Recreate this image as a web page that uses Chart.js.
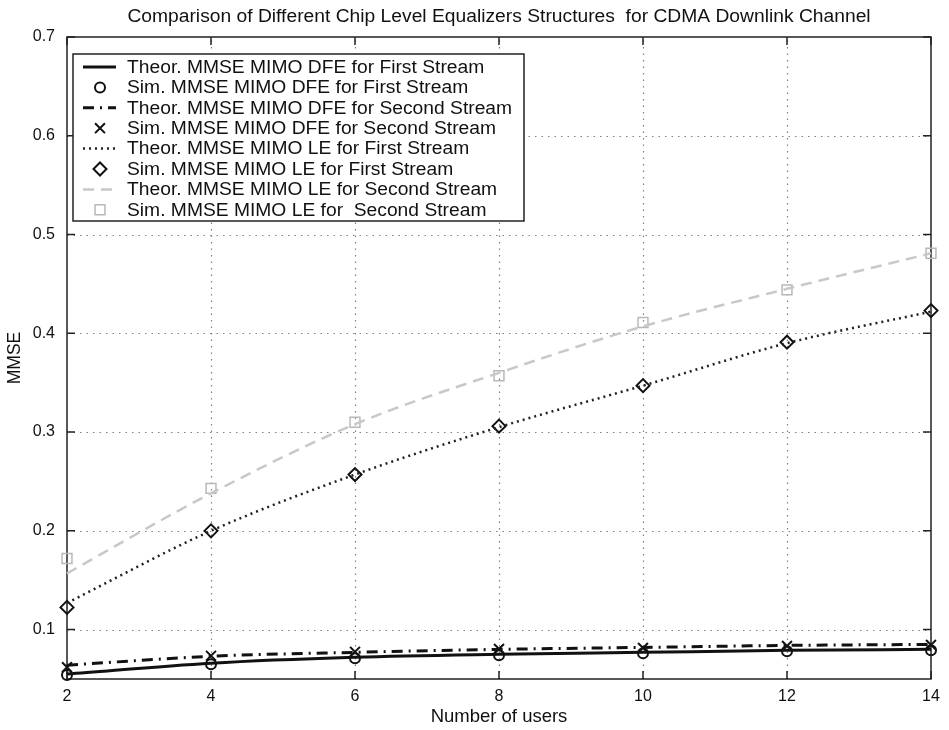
<!DOCTYPE html>
<html>
<head>
<meta charset="utf-8">
<script src="https://cdn.jsdelivr.net/npm/chart.js@4.4.1/dist/chart.umd.min.js"></script>
<style>
  html, body { margin: 0; padding: 0; background: #fff; }
  #wrap { width: 949px; height: 730px; }
</style>
</head>
<body>
<div id="wrap"><canvas id="c" width="949" height="730"></canvas></div>
<script>
// Number of users on the x axis
const users = [2, 4, 6, 8, 10, 12, 14];

// MMSE values per equalizer / stream
const dfeFirstTheory  = [0.055, 0.066, 0.072, 0.075, 0.077, 0.079, 0.080];
const dfeFirstSim     = [0.054, 0.065, 0.071, 0.074, 0.076, 0.078, 0.079];
const dfeSecondTheory = [0.064, 0.073, 0.077, 0.080, 0.082, 0.084, 0.085];
const dfeSecondSim    = [0.062, 0.0735, 0.0775, 0.0805, 0.0815, 0.0835, 0.0845];
const leFirstTheory   = [0.127, 0.200, 0.257, 0.305, 0.347, 0.390, 0.422];
const leFirstSim      = [0.1225, 0.200, 0.257, 0.306, 0.347, 0.391, 0.423];
const leSecondTheory  = [0.157, 0.238, 0.308, 0.360, 0.407, 0.445, 0.481];
const leSecondSim     = [0.172, 0.243, 0.310, 0.357, 0.411, 0.444, 0.481];

// Tick labels
const xTicks = [2, 4, 6, 8, 10, 12, 14];
const yTicks = [0.1, 0.2, 0.3, 0.4, 0.5, 0.6, 0.7];

const seriesNames = [
  'Theor. MMSE MIMO DFE for First Stream',
  'Sim. MMSE MIMO DFE for First Stream',
  'Theor. MMSE MIMO DFE for Second Stream',
  'Sim. MMSE MIMO DFE for Second Stream',
  'Theor. MMSE MIMO LE for First Stream',
  'Sim. MMSE MIMO LE for First Stream',
  'Theor. MMSE MIMO LE for Second Stream',
  'Sim. MMSE MIMO LE for  Second Stream'
];

const chartTitle = 'Comparison of Different Chip Level Equalizers Structures  for CDMA Downlink Channel';
const xTitle = 'Number of users';
const yTitle = 'MMSE';

const FONT = '"Liberation Sans", Arial, Helvetica, sans-serif';
const TEXT_STRETCH = 1.1; // slightly wide lettering for title and legend

const pts = arr => users.map((u, i) => ({ x: u, y: arr[i] }));

function theoryLine(label, data, color, width, dash) {
  return {
    label, data: pts(data), borderColor: color, borderWidth: width, borderDash: dash,
    pointRadius: 0, pointHoverRadius: 0, fill: false,
    cubicInterpolationMode: 'monotone', clip: false
  };
}
function simMarkers(label, data, color, style, radius, bw) {
  return {
    label, data: pts(data), showLine: false, borderColor: color, backgroundColor: 'rgba(0,0,0,0)',
    pointStyle: style, pointRadius: radius, pointHoverRadius: radius, pointBorderWidth: bw,
    pointBorderColor: color, pointBackgroundColor: 'rgba(0,0,0,0)', clip: false
  };
}

const datasets = [
  theoryLine(seriesNames[0], dfeFirstTheory, '#111', 3, []),
  simMarkers(seriesNames[1], dfeFirstSim, '#111', 'circle', 5, 2),
  theoryLine(seriesNames[2], dfeSecondTheory, '#111', 3, [11, 6, 2, 6]),
  simMarkers(seriesNames[3], dfeSecondSim, '#111', 'crossRot', 7, 2),
  theoryLine(seriesNames[4], leFirstTheory, '#222', 2.5, [2, 4]),
  simMarkers(seriesNames[5], leFirstSim, '#111', 'rectRot', 6.5, 2),
  theoryLine(seriesNames[6], leSecondTheory, '#c8c8c8', 2.5, [11, 7]),
  simMarkers(seriesNames[7], leSecondSim, '#b8b8b8', 'rect', 7, 1.5)
];

function stretchedText(ctx, text, x, y, align) {
  ctx.save();
  ctx.translate(x, y);
  ctx.scale(TEXT_STRETCH, 1);
  ctx.textAlign = align;
  ctx.fillText(text, 0, 0);
  ctx.restore();
}

// Dotted grid, boxed frame and inward tick marks
const framePlugin = {
  id: 'frame',
  beforeDatasetsDraw(chart) {
    const { ctx, chartArea: a, scales: { x, y } } = chart;
    ctx.save();
    ctx.strokeStyle = '#808080';
    ctx.lineWidth = 1.2;
    ctx.setLineDash([1.5, 5]);
    xTicks.forEach(v => {
      const px = Math.round(x.getPixelForValue(v)) + 0.5;
      if (px <= a.left + 1 || px >= a.right - 1) return;
      ctx.beginPath(); ctx.moveTo(px, a.bottom); ctx.lineTo(px, a.top); ctx.stroke();
    });
    yTicks.forEach(v => {
      const py = Math.round(y.getPixelForValue(v)) + 0.5;
      if (py <= a.top + 1 || py >= a.bottom - 1) return;
      ctx.beginPath(); ctx.moveTo(a.left, py); ctx.lineTo(a.right, py); ctx.stroke();
    });
    ctx.setLineDash([]);
    ctx.strokeStyle = '#222';
    ctx.lineWidth = 1.5;
    ctx.strokeRect(a.left, a.top, a.right - a.left, a.bottom - a.top);
    const tl = 8;
    ctx.beginPath();
    xTicks.forEach(v => {
      const px = x.getPixelForValue(v);
      ctx.moveTo(px, a.bottom); ctx.lineTo(px, a.bottom - tl);
      ctx.moveTo(px, a.top); ctx.lineTo(px, a.top + tl);
    });
    yTicks.forEach(v => {
      const py = y.getPixelForValue(v);
      ctx.moveTo(a.left, py); ctx.lineTo(a.left + tl, py);
      ctx.moveTo(a.right, py); ctx.lineTo(a.right - tl, py);
    });
    ctx.stroke();
    ctx.restore();
  },
  afterDraw(chart) {
    const { ctx, chartArea: a } = chart;
    ctx.save();
    // title centred over the plot box
    ctx.fillStyle = '#111';
    ctx.font = '17.5px ' + FONT;
    ctx.textBaseline = 'middle';
    stretchedText(ctx, chartTitle, (a.left + a.right) / 2, 17, 'center');

    // legend box inside the axes
    const box = { left: 73, top: 54, right: 524, bottom: 221 };
    ctx.fillStyle = '#fff';
    ctx.fillRect(box.left, box.top, box.right - box.left, box.bottom - box.top);
    ctx.strokeStyle = '#222';
    ctx.lineWidth = 1.5;
    ctx.strokeRect(box.left, box.top, box.right - box.left, box.bottom - box.top);
    const rowH = 20.4, firstY = 67;
    chart.data.datasets.forEach((ds, i) => {
      const yy = firstY + i * rowH;
      if (ds.showLine !== false) {
        ctx.save();
        ctx.strokeStyle = ds.borderColor;
        ctx.lineWidth = ds.borderWidth;
        ctx.setLineDash(ds.borderDash || []);
        ctx.beginPath(); ctx.moveTo(83, yy); ctx.lineTo(116, yy); ctx.stroke();
        ctx.restore();
      } else {
        ctx.save();
        ctx.strokeStyle = ds.pointBorderColor;
        ctx.fillStyle = 'rgba(0,0,0,0)';
        ctx.lineWidth = ds.pointBorderWidth;
        Chart.helpers.drawPoint(ctx, { pointStyle: ds.pointStyle, radius: ds.pointRadius, rotation: 0, borderWidth: ds.pointBorderWidth }, 100, yy);
        ctx.restore();
      }
      ctx.fillStyle = '#111';
      ctx.font = '17.5px ' + FONT;
      ctx.textBaseline = 'middle';
      stretchedText(ctx, ds.label, 127, yy + 1, 'left');
    });
    ctx.restore();
  }
};

new Chart(document.getElementById('c'), {
  type: 'line',
  data: { datasets },
  options: {
    responsive: false,
    animation: false,
    devicePixelRatio: 1,
    layout: { padding: { left: 0, right: 18, top: 37, bottom: 0 } },
    plugins: { legend: { display: false }, title: { display: false }, tooltip: { enabled: false } },
    scales: {
      x: {
        type: 'linear', min: 2, max: 14,
        afterBuildTicks: s => { s.ticks = xTicks.map(v => ({ value: v })); },
        afterFit: s => { s.height = 51; },
        grid: { display: false, drawTicks: false },
        border: { display: false },
        ticks: { color: '#111', padding: 8, maxRotation: 0, font: { family: FONT, size: 16 } },
        title: { display: true, text: xTitle, color: '#111', font: { family: FONT, size: 18.5 }, padding: { top: 0, bottom: 2 } }
      },
      y: {
        type: 'linear', min: 0.05, max: 0.7,
        afterBuildTicks: s => { s.ticks = yTicks.map(v => ({ value: v })); },
        afterFit: s => { s.width = 67; },
        grid: { display: false, drawTicks: false },
        border: { display: false },
        ticks: { color: '#111', padding: 12, font: { family: FONT, size: 16 }, callback: v => String(Math.round(v * 10) / 10) },
        title: { display: true, text: yTitle, color: '#111', font: { family: FONT, size: 17.5 }, padding: { top: 5, bottom: 0 } }
      }
    }
  },
  plugins: [framePlugin]
});
</script>
</body>
</html>
